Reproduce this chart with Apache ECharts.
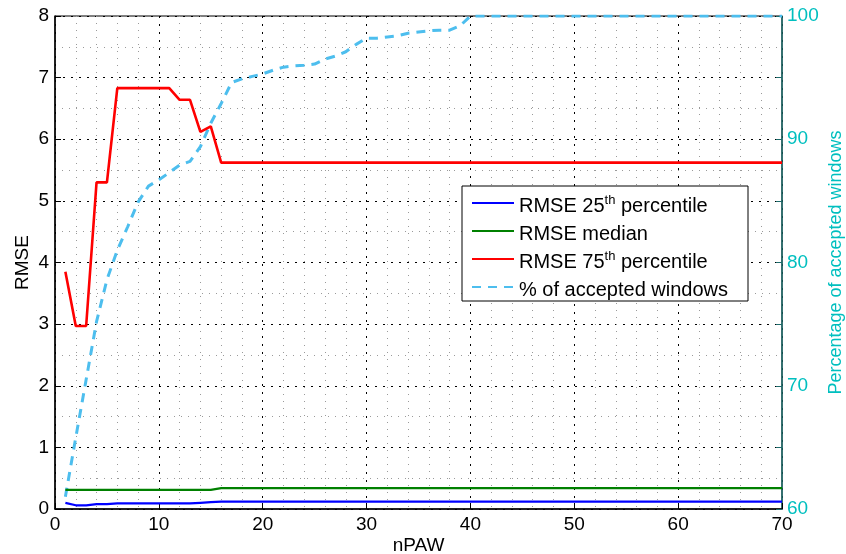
<!DOCTYPE html>
<html>
<head>
<meta charset="utf-8">
<script src="https://cdn.jsdelivr.net/npm/echarts@6/dist/echarts.min.js"></script>
<style>
  html, body { margin: 0; padding: 0; background: #fff; }
  #chart { width: 846px; height: 554px; }
</style>
</head>
<body>
<div id="chart"></div>
<script>
// Number of PAW windows (x axis)
const nPaw = [
  1, 2, 3, 4, 5, 6, 7, 8, 9, 10,
  11, 12, 13, 14, 15, 16, 17, 18, 19, 20,
  21, 22, 23, 24, 25, 26, 27, 28, 29, 30,
  31, 32, 33, 34, 35, 36, 37, 38, 39, 40,
  41, 42, 43, 44, 45, 46, 47, 48, 49, 50,
  51, 52, 53, 54, 55, 56, 57, 58, 59, 60,
  61, 62, 63, 64, 65, 66, 67, 68, 69, 70
];

// RMSE, 25th percentile
const rmseP25 = [
  0.10, 0.06, 0.06, 0.08, 0.08, 0.09, 0.09, 0.09, 0.09, 0.09,
  0.09, 0.09, 0.09, 0.10, 0.11, 0.12, 0.12, 0.12, 0.12, 0.12,
  0.12, 0.12, 0.12, 0.12, 0.12, 0.12, 0.12, 0.12, 0.12, 0.12,
  0.12, 0.12, 0.12, 0.12, 0.12, 0.12, 0.12, 0.12, 0.12, 0.12,
  0.12, 0.12, 0.12, 0.12, 0.12, 0.12, 0.12, 0.12, 0.12, 0.12,
  0.12, 0.12, 0.12, 0.12, 0.12, 0.12, 0.12, 0.12, 0.12, 0.12,
  0.12, 0.12, 0.12, 0.12, 0.12, 0.12, 0.12, 0.12, 0.12, 0.12
];

// RMSE, median
const rmseMedian = [
  0.31, 0.31, 0.31, 0.31, 0.31, 0.31, 0.31, 0.31, 0.31, 0.31,
  0.31, 0.31, 0.31, 0.31, 0.31, 0.34, 0.34, 0.34, 0.34, 0.34,
  0.34, 0.34, 0.34, 0.34, 0.34, 0.34, 0.34, 0.34, 0.34, 0.34,
  0.34, 0.34, 0.34, 0.34, 0.34, 0.34, 0.34, 0.34, 0.34, 0.34,
  0.34, 0.34, 0.34, 0.34, 0.34, 0.34, 0.34, 0.34, 0.34, 0.34,
  0.34, 0.34, 0.34, 0.34, 0.34, 0.34, 0.34, 0.34, 0.34, 0.34,
  0.34, 0.34, 0.34, 0.34, 0.34, 0.34, 0.34, 0.34, 0.34, 0.34
];

// RMSE, 75th percentile
const rmseP75 = [
  3.85, 2.97, 2.97, 5.30, 5.30, 6.83, 6.83, 6.83, 6.83, 6.83,
  6.83, 6.64, 6.64, 6.12, 6.21, 5.62, 5.62, 5.62, 5.62, 5.62,
  5.62, 5.62, 5.62, 5.62, 5.62, 5.62, 5.62, 5.62, 5.62, 5.62,
  5.62, 5.62, 5.62, 5.62, 5.62, 5.62, 5.62, 5.62, 5.62, 5.62,
  5.62, 5.62, 5.62, 5.62, 5.62, 5.62, 5.62, 5.62, 5.62, 5.62,
  5.62, 5.62, 5.62, 5.62, 5.62, 5.62, 5.62, 5.62, 5.62, 5.62,
  5.62, 5.62, 5.62, 5.62, 5.62, 5.62, 5.62, 5.62, 5.62, 5.62
];

// Percentage of accepted windows (right axis)
const acceptedPct = [
  61.0, 65.8, 70.5, 75.2, 78.6, 81.0, 82.9, 84.9, 86.2, 86.7,
  87.3, 87.9, 88.2, 89.4, 91.3, 92.9, 94.6, 94.9, 95.1, 95.3,
  95.6, 95.85, 95.95, 96.0, 96.1, 96.5, 96.75, 97.1, 97.7, 98.2,
  98.2, 98.3, 98.4, 98.6, 98.7, 98.8, 98.85, 98.85, 99.2, 100,
  100, 100, 100, 100, 100, 100, 100, 100, 100, 100,
  100, 100, 100, 100, 100, 100, 100, 100, 100, 100,
  100, 100, 100, 100, 100, 100, 100, 100, 100, 100
];

// Axis ticks
const xTicks = [0, 10, 20, 30, 40, 50, 60, 70];
const leftTicks = [0, 1, 2, 3, 4, 5, 6, 7, 8];
const rightTicks = [60, 70, 80, 90, 100];

const seriesNames = [
  'RMSE 25th percentile',
  'RMSE median',
  'RMSE 75th percentile',
  '% of accepted windows'
];

const pairs = (ys) => nPaw.map((x, i) => [x, ys[i]]);

const FONT = '"Liberation Sans", Arial, Helvetica, sans-serif';
const TEAL = '#00bfbf';
const AXIS_FS = 19;

const majorGrid = { show: true, lineStyle: { color: '#000', width: 1, type: [2, 6] } };
const minorGrid = { show: true, lineStyle: { color: '#9a9a9a', width: 1, type: [1, 6] } };

const chart = echarts.init(document.getElementById('chart'), null, { renderer: 'canvas' });

chart.setOption({
  animation: false,
  backgroundColor: '#fff',
  textStyle: { fontFamily: FONT },
  grid: {
    left: 55, right: 64, top: 16, bottom: 45,
    outerBoundsMode: 'none',
    containLabel: false,
    show: true, borderColor: '#000', borderWidth: 1, backgroundColor: 'transparent'
  },
  legend: {
    orient: 'vertical',
    left: 462, top: 186,
    padding: [3, 20, 0, 9],
    itemWidth: 42,
    itemHeight: 14,
    itemGap: 0,
    itemStyle: { opacity: 0 },
    backgroundColor: '#fff',
    borderColor: '#000',
    borderWidth: 1,
    data: seriesNames,
    formatter: function (name) {
      const m = name.match(/^(RMSE \d+)(th)( percentile)$/);
      if (m) return '{t|' + m[1] + '}{sup|' + m[2] + '}{t|' + m[3] + '}';
      return '{t|' + name + '}';
    },
    textStyle: {
      color: '#000',
      fontFamily: FONT,
      fontSize: 20,
      lineHeight: 28,
      rich: {
        t: { fontSize: 20, color: '#000', fontFamily: FONT, lineHeight: 28, padding: [7, 0, 0, 0] },
        sup: { fontSize: 13, color: '#000', fontFamily: FONT, verticalAlign: 'top', lineHeight: 14, padding: [5, 0, 0, 0] }
      }
    }
  },
  xAxis: {
    type: 'value',
    min: xTicks[0], max: xTicks[xTicks.length - 1], interval: 10,
    name: 'nPAW', nameLocation: 'middle', nameGap: 27, nameMoveOverlap: false,
    nameTextStyle: { fontSize: AXIS_FS, color: '#000', fontFamily: FONT },
    axisLine: { show: true, lineStyle: { color: '#000', width: 1.5 } },
    axisTick: { show: true, inside: true, length: 6, lineStyle: { color: '#000' } },
    axisLabel: { fontSize: AXIS_FS, color: '#000', margin: 6, fontFamily: FONT },
    splitLine: majorGrid,
    minorTick: { show: false, splitNumber: 5 },
    minorSplitLine: minorGrid
  },
  yAxis: [
    {
      type: 'value',
      min: leftTicks[0], max: leftTicks[leftTicks.length - 1], interval: 1,
      position: 'left',
      name: 'RMSE', nameLocation: 'middle', nameGap: 23, nameMoveOverlap: false,
      nameTextStyle: { fontSize: AXIS_FS, color: '#000', fontFamily: FONT },
      axisLine: { show: true, lineStyle: { color: '#000', width: 1.5 } },
      axisTick: { show: true, inside: true, length: 6, lineStyle: { color: '#000' } },
      axisLabel: { fontSize: AXIS_FS, color: '#000', margin: 6, fontFamily: FONT },
      splitLine: majorGrid,
      minorTick: { show: false, splitNumber: 2 },
      minorSplitLine: minorGrid
    },
    {
      type: 'value',
      min: rightTicks[0], max: rightTicks[rightTicks.length - 1], interval: 5,
      position: 'right',
      name: 'Percentage of accepted windows', nameLocation: 'middle', nameGap: 45,
      nameMoveOverlap: false,
      nameRotate: 90,
      nameTextStyle: { fontSize: 18, color: TEAL, fontFamily: FONT },
      axisLine: { show: true, lineStyle: { color: '#1d6b6b', width: 1.5 } },
      axisTick: { show: true, inside: true, length: 6, lineStyle: { color: '#1d6b6b' } },
      axisLabel: {
        fontSize: AXIS_FS, color: TEAL, margin: 5, fontFamily: FONT,
        formatter: (v) => (rightTicks.indexOf(v) >= 0 ? String(v) : '')
      },
      splitLine: { show: false }
    }
  ],
  series: [
    {
      name: seriesNames[0], type: 'line', yAxisIndex: 0, data: pairs(rmseP25),
      showSymbol: false, symbol: 'none', color: '#0000ff',
      lineStyle: { color: '#0000ff', width: 2.2 }, z: 3
    },
    {
      name: seriesNames[1], type: 'line', yAxisIndex: 0, data: pairs(rmseMedian),
      showSymbol: false, symbol: 'none', color: '#008000',
      lineStyle: { color: '#008000', width: 2.2 }, z: 3
    },
    {
      name: seriesNames[2], type: 'line', yAxisIndex: 0, data: pairs(rmseP75),
      showSymbol: false, symbol: 'none', color: '#ff0000',
      lineStyle: { color: '#ff0000', width: 2.6 }, z: 3
    },
    {
      name: seriesNames[3], type: 'line', yAxisIndex: 1, data: pairs(acceptedPct),
      showSymbol: false, symbol: 'none', color: '#4dbeee',
      lineStyle: { color: '#4dbeee', width: 3, type: [9, 7] }, z: 2
    }
  ]
});
</script>
</body>
</html>
